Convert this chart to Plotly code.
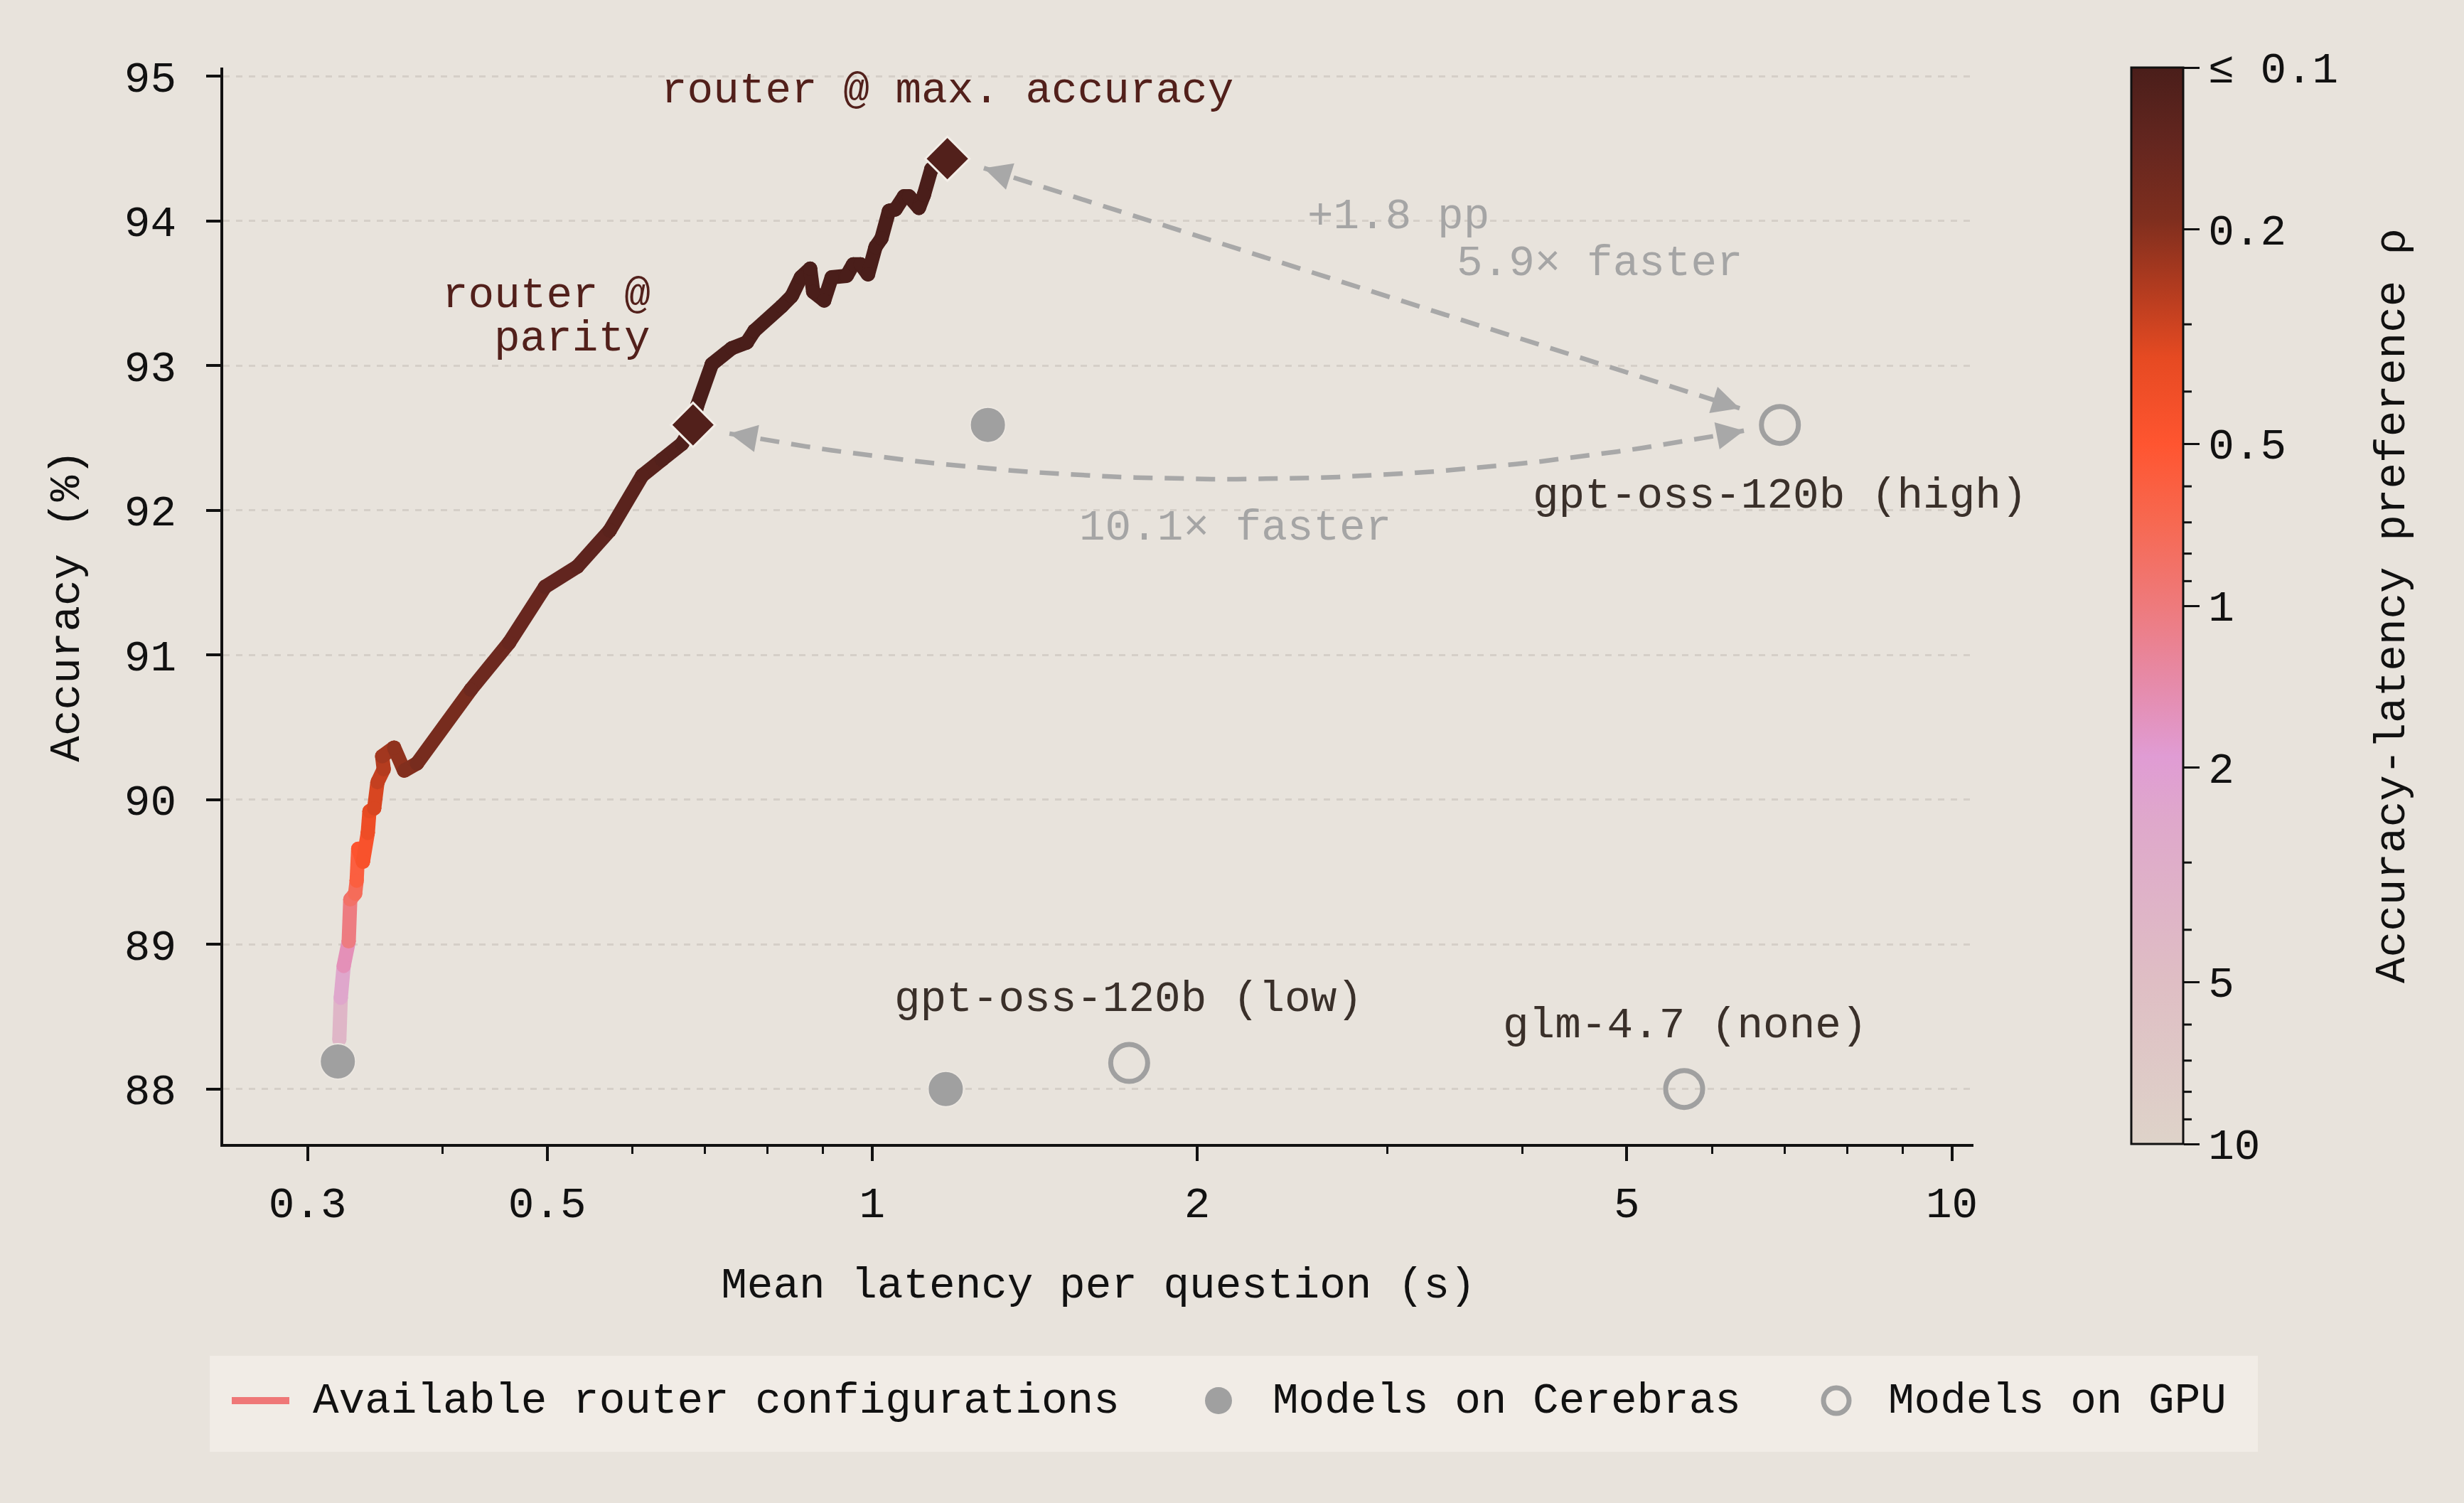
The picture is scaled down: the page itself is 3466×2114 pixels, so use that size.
import math
import plotly.graph_objects as go

# --- data --------------------------------------------------------------------

# router frontier, from the cheapest configuration up to max accuracy
router_latency = [0.321, 0.322, 0.324, 0.3275, 0.3286, 0.332, 0.3331, 0.3342, 0.3376,
                  0.3411, 0.3423, 0.3458, 0.3482, 0.3529, 0.3517, 0.3608, 0.3686,
                  0.3788, 0.4249, 0.4611, 0.4977, 0.5332, 0.5714, 0.6124, 0.6389,
                  0.6667, 0.6825, 0.6884, 0.7105, 0.7414, 0.7655, 0.7778, 0.8246,
                  0.8424, 0.8589, 0.8762, 0.8818, 0.9028, 0.9173, 0.947, 0.9603,
                  0.9757, 0.9913, 1.0072, 1.0202, 1.0366, 1.051, 1.0703, 1.0817,
                  1.1049, 1.1168, 1.1347, 1.174]
router_accuracy = [88.34, 88.63, 88.85, 89.02, 89.31, 89.35, 89.44, 89.66, 89.57,
                   89.77, 89.92, 89.94, 90.12, 90.21, 90.30, 90.36, 90.20,
                   90.25, 90.76, 91.085, 91.47, 91.61, 91.86, 92.24, 92.35,
                   92.46, 92.59, 92.72, 93.01, 93.12, 93.16, 93.24, 93.41,
                   93.48, 93.61, 93.67, 93.51, 93.45, 93.61, 93.62, 93.70,
                   93.70, 93.63, 93.82, 93.88, 94.07, 94.08, 94.17, 94.17,
                   94.09, 94.18, 94.36, 94.43]
router_rho = [5.0, 3.0, 2.0, 1.2, 0.9, 0.8, 0.7, 0.5, 0.48,
              0.42, 0.36, 0.34, 0.3, 0.27, 0.25, 0.22, 0.2,
              0.19, 0.16, 0.15, 0.14, 0.13, 0.125, 0.12, 0.115,
              0.11, 0.105, 0.1, 0.1, 0.1, 0.1, 0.1, 0.1,
              0.1, 0.1, 0.1, 0.1, 0.1, 0.1, 0.1, 0.1,
              0.1, 0.1, 0.1, 0.1, 0.1, 0.1, 0.1, 0.1,
              0.1, 0.1, 0.1, 0.1]

cerebras_latency = [0.32, 1.17, 1.28]
cerebras_accuracy = [88.19, 88.0, 92.59]

gpu_latency = [1.73, 5.65, 6.93]
gpu_accuracy = [88.18, 88.0, 92.59]

# router @ parity, router @ max. accuracy
highlight_latency = [0.6825, 1.174]
highlight_accuracy = [92.59, 94.43]

x_ticks = [0.3, 0.5, 1, 2, 5, 10]
x_ticktext = ["0.3", "0.5", "1", "2", "5", "10"]
x_minor = [0.4, 0.6, 0.7, 0.8, 0.9, 3, 4, 6, 7, 8, 9]
y_ticks = [88, 89, 90, 91, 92, 93, 94, 95]

rho_ticks = [0.1, 0.2, 0.5, 1, 2, 5, 10]
rho_ticktext = ["≤ 0.1", "0.2", "0.5", "1", "2", "5", "10"]
rho_minor = [0.3, 0.4, 0.6, 0.7, 0.8, 0.9, 3, 4, 6, 7, 8, 9]

# --- styling ------------------------------------------------------------------

FONT = "Liberation Mono"
FS = 61
BG = "#e8e3dc"
INK = "#111111"
BROWN = "#52201b"
GREY = "#a0a0a0"
ARROW = "#a8a8a8"
W, H = 3466, 2114
ML, MR, MT, MB = 314, 690, 95, 505
PW, PH = W - ML - MR, H - MT - MB

# colour scale in -log10(rho): 0 -> rho = 10, 1 -> rho = 0.1
RHO_SCALE = [
    [0.00, "#ded3c9"],
    [0.15, "#dfbec4"],
    [0.30, "#dfa8cb"],
    [0.36, "#e09cd4"],
    [0.43, "#e68aa8"],
    [0.50, "#ee7a7c"],
    [0.58, "#f76850"],
    [0.65, "#ff5530"],
    [0.73, "#e64a22"],
    [0.80, "#ae3a1f"],
    [0.86, "#7e2e1e"],
    [0.93, "#64261f"],
    [1.00, "#4a1e1a"],
]


def rho_pos(rho):
    v = -math.log10(max(rho, 0.1))
    return min(max((v + 1) / 2, 0.0), 1.0)


def rho_color(rho):
    p = rho_pos(rho)
    for (p0, c0), (p1, c1) in zip(RHO_SCALE[:-1], RHO_SCALE[1:]):
        if p0 <= p <= p1:
            t = 0 if p1 == p0 else (p - p0) / (p1 - p0)
            a = [int(c0[i:i + 2], 16) for i in (1, 3, 5)]
            b = [int(c1[i:i + 2], 16) for i in (1, 3, 5)]
            r, g, bl = [round(a[k] + (b[k] - a[k]) * t) for k in range(3)]
            return f"rgb({r},{g},{bl})"
    return RHO_SCALE[-1][1]


def px(xp):
    # figure pixel column -> paper x
    return (xp - ML) / PW


def py(yp):
    # figure pixel row -> paper y
    return (H - MB - yp) / PH


fig = go.Figure()

# dashed comparison arrows (under everything else)
DASH = "27px,17px"
straight_start = (1.269, 94.365)
straight_end = (6.36, 92.705)
fig.add_trace(go.Scatter(
    x=[straight_start[0], straight_end[0]], y=[straight_start[1], straight_end[1]],
    mode="lines", line=dict(color=ARROW, width=6.5, dash=DASH),
    hoverinfo="skip", showlegend=False))

curve_start = (0.7377, 92.53)
curve_ctrl = (2.178, 91.89)
curve_end = (6.42, 92.55)
cx, cy = [], []
for i in range(41):
    t = i / 40
    lxv = ((1 - t) ** 2 * math.log10(curve_start[0]) + 2 * (1 - t) * t * math.log10(curve_ctrl[0])
           + t ** 2 * math.log10(curve_end[0]))
    lyv = (1 - t) ** 2 * curve_start[1] + 2 * (1 - t) * t * curve_ctrl[1] + t ** 2 * curve_end[1]
    cx.append(10 ** lxv)
    cy.append(lyv)
fig.add_trace(go.Scatter(
    x=cx, y=cy, mode="lines", line=dict(color=ARROW, width=6.5, dash=DASH),
    hoverinfo="skip", showlegend=False))

# router frontier, one segment per step so it can follow the colour scale
LW = 20
for i in range(len(router_latency) - 1):
    col = rho_color((router_rho[i] * router_rho[i + 1]) ** 0.5)
    fig.add_trace(go.Scatter(
        x=router_latency[i:i + 2], y=router_accuracy[i:i + 2],
        mode="lines+markers",
        line=dict(color=col, width=LW),
        marker=dict(color=col, size=LW),
        hoverinfo="skip", showlegend=False))

# invisible carrier for the colour bar
fig.add_trace(go.Scatter(
    x=[1.0], y=[90.0], mode="markers", showlegend=False, hoverinfo="skip",
    marker=dict(
        size=0.1, opacity=0, color=[0], cmin=-1, cmax=1, colorscale=RHO_SCALE,
        showscale=True,
        colorbar=dict(
            x=px(2998), xanchor="left", xpad=0, y=0.5, yanchor="middle", len=1, ypad=0,
            thickness=73, outlinewidth=3, outlinecolor=INK,
            tickmode="array",
            tickvals=[-math.log10(r) for r in rho_ticks], ticktext=rho_ticktext,
            ticks="outside", ticklen=22, tickwidth=3, tickcolor=INK,
            tickfont=dict(family=FONT, size=FS, color=INK),
        ),
    )))

fig.add_trace(go.Scatter(
    x=cerebras_latency, y=cerebras_accuracy, mode="markers", name="Models on Cerebras",
    marker=dict(symbol="circle", size=50, color=GREY, line=dict(width=2, color="#ece7e1")),
    hoverinfo="skip", showlegend=False))
fig.add_trace(go.Scatter(
    x=gpu_latency, y=gpu_accuracy, mode="markers", name="Models on GPU",
    marker=dict(symbol="circle-open", size=52, color=GREY, line=dict(width=7, color=GREY)),
    hoverinfo="skip", showlegend=False))
fig.add_trace(go.Scatter(
    x=highlight_latency, y=highlight_accuracy, mode="markers", showlegend=False,
    marker=dict(symbol="diamond", size=48, color=BROWN, line=dict(width=3, color="#f3eee8")),
    hoverinfo="skip"))


def lx(v):
    return math.log10(v)


annotations = []


def label(text, x, y, color, xanchor="center"):
    annotations.append(dict(
        text=text, x=lx(x), y=y, xref="x", yref="y", showarrow=False,
        xanchor=xanchor, yanchor="middle", font=dict(family=FONT, size=FS, color=color)))


label("router @ max. accuracy", 1.174, 94.90, BROWN)
label("router @", 0.6252, 93.486, BROWN, "right")
label("parity", 0.6252, 93.185, BROWN, "right")
label("+1.8 pp", 3.072, 94.032, "#a5a5a5")
label("5.9× faster", 4.72, 93.707, "#a5a5a5")
label("10.1× faster", 2.168, 91.878, "#a5a5a5")
label("gpt-oss-120b (high)", 6.93, 92.10, "#3a302a")
label("gpt-oss-120b (low)", 1.727, 88.618, "#3a302a")
label("glm-4.7 (none)", 5.66, 88.436, "#3a302a")


def head(tip, ux, uy):
    # arrowhead only: short tail along the arrow direction (pixels)
    L = 34
    annotations.append(dict(
        x=lx(tip[0]), y=tip[1], xref="x", yref="y", ax=ux * L, ay=uy * L,
        axref="pixel", ayref="pixel",
        text="", showarrow=True, arrowhead=2, arrowsize=1.55, arrowwidth=5,
        arrowcolor=ARROW, standoff=0, startstandoff=0))


head(straight_start, 0.953, 0.303)
head(straight_end, -0.953, -0.303)
head(curve_start, 0.984, 0.179)
head(curve_end, -0.983, 0.185)

# colour bar title
annotations.append(dict(
    text="Accuracy-latency preference ρ", x=px(3365), y=0.5, xref="paper", yref="paper",
    textangle=-90, showarrow=False, xanchor="center", yanchor="middle",
    font=dict(family=FONT, size=FS, color=INK)))

shapes = []
# minor ticks on the colour bar
for r in rho_minor:
    yp = (-math.log10(r) + 1) / 2
    shapes.append(dict(type="line", xref="paper", yref="paper", x0=px(3071), x1=px(3083),
                       y0=yp, y1=yp, line=dict(color=INK, width=3)))

# key below the axes
LEG_Y = py(1970)
shapes.append(dict(type="rect", xref="paper", yref="paper", layer="below",
                   x0=px(295), x1=px(3176), y0=py(2042), y1=py(1907),
                   fillcolor="#f1ece6", line=dict(width=0)))
shapes.append(dict(type="line", xref="paper", yref="paper",
                   x0=px(326), x1=px(407), y0=LEG_Y, y1=LEG_Y,
                   line=dict(color="#ef7777", width=10)))
shapes.append(dict(type="circle", xref="paper", yref="paper",
                   xsizemode="pixel", ysizemode="pixel",
                   xanchor=px(1714), yanchor=LEG_Y, x0=-19, x1=19, y0=-19, y1=19,
                   fillcolor=GREY, line=dict(width=0)))
shapes.append(dict(type="circle", xref="paper", yref="paper",
                   xsizemode="pixel", ysizemode="pixel",
                   xanchor=px(2583), yanchor=LEG_Y, x0=-18, x1=18, y0=-18, y1=18,
                   line=dict(width=7, color=GREY)))
for text, xp in [("Available router configurations", 438),
                 ("Models on Cerebras", 1788),
                 ("Models on GPU", 2654)]:
    annotations.append(dict(
        text=text, x=px(xp), y=LEG_Y, xref="paper", yref="paper", showarrow=False,
        xanchor="left", yanchor="middle", font=dict(family=FONT, size=FS, color=INK)))

fig.update_layout(
    width=W, height=H,
    margin=dict(l=ML, r=MR, t=MT, b=MB),
    paper_bgcolor=BG, plot_bgcolor=BG,
    font=dict(family=FONT, size=FS, color=INK),
    annotations=annotations, shapes=shapes,
    showlegend=False,
    xaxis=dict(
        type="log", range=[-0.601, 1.020],
        tickmode="array", tickvals=x_ticks, ticktext=x_ticktext,
        ticks="outside", ticklen=20, tickwidth=3.5, tickcolor=INK,
        ticklabelstandoff=6,
        showline=True, linecolor=INK, linewidth=3.5,
        showgrid=False, zeroline=False,
        minor=dict(tickmode="array", tickvals=x_minor, ticks="outside", ticklen=10,
                   tickwidth=2.5, tickcolor=INK, showgrid=False),
        title=dict(text="Mean latency per question (s)", standoff=54,
                   font=dict(family=FONT, size=FS, color=INK)),
    ),
    yaxis=dict(
        range=[87.62, 95.06],
        tickmode="array", tickvals=y_ticks,
        ticks="outside", ticklen=20, tickwidth=3.5, tickcolor=INK,
        ticklabelstandoff=30,
        showline=True, linecolor=INK, linewidth=3.5,
        showgrid=True, gridcolor="#d5cfc8", gridwidth=2.5, griddash="dash",
        zeroline=False,
        title=dict(text="Accuracy (%)", standoff=44,
                   font=dict(family=FONT, size=FS, color=INK)),
    ),
)

fig.write_html(
    "out.html",
    config={"displayModeBar": False},
    post_script="document.body.style.margin='0';document.body.style.background='%s';" % BG,
)
